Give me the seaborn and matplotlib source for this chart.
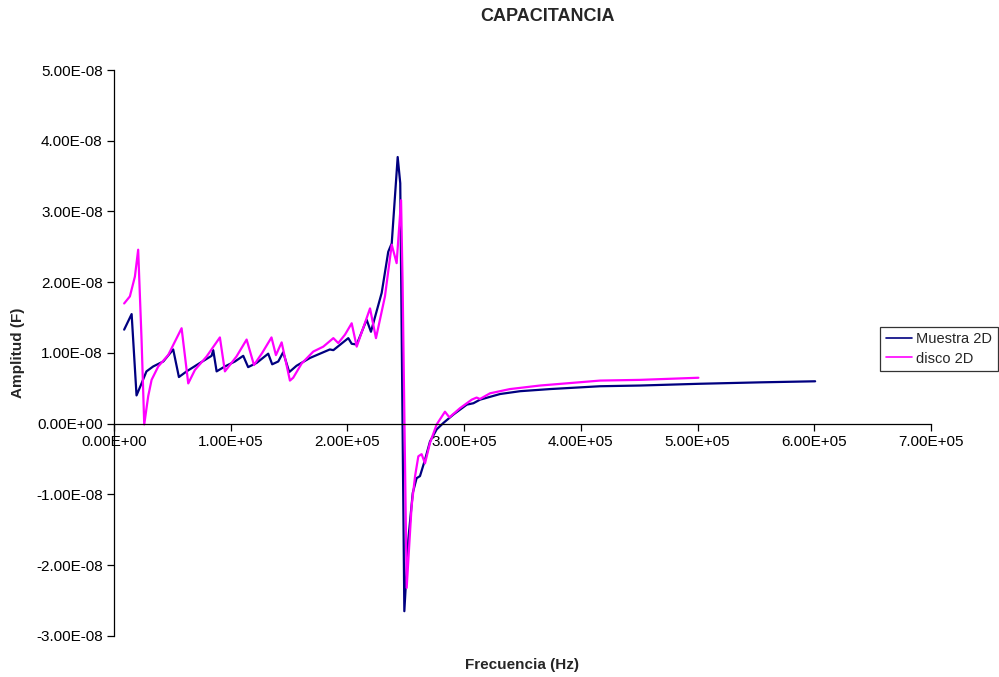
import matplotlib
matplotlib.use("Agg")
import matplotlib.pyplot as plt
import matplotlib.ticker as mticker
import pandas as pd
import seaborn as sns

# Muestra 2D: frequency (kHz) and capacitance (1e-8 F)
muestra_khz = [8.8, 15.2, 19.4, 23.7, 27.9, 33.7, 42.3, 50.8, 55.7, 62.3, 70.9, 83.7,
               85.1, 88, 95.1, 103.7, 110.8, 115, 122.3, 132.2, 135.6, 140.8, 145,
               150.2, 156.5, 168, 185, 188, 200.8, 203.7, 208, 216.5, 220.2, 229.4,
               235, 238, 243.1, 245.3, 248.8, 252.2, 256, 259.3, 262.2, 266.5,
               270.8, 276.5, 282.2, 290.8, 302.3, 308, 313.6, 330.8, 348, 373.6,
               416.5, 450.7, 502, 553.5, 600.7]
muestra_cap = [1.33, 1.55, 0.40, 0.57, 0.74, 0.81, 0.88, 1.05, 0.66, 0.74, 0.83, 0.96,
               1.04, 0.74, 0.81, 0.88, 0.96, 0.80, 0.86, 0.99, 0.84, 0.88, 1.01,
               0.73, 0.82, 0.93, 1.05, 1.04, 1.21, 1.13, 1.12, 1.47, 1.30, 1.85,
               2.43, 2.55, 3.77, 3.40, -2.65, -1.64, -0.98, -0.77, -0.74, -0.51,
               -0.25, -0.08, 0.01, 0.13, 0.27, 0.29, 0.34, 0.42, 0.46, 0.49,
               0.53, 0.54, 0.565, 0.585, 0.60]

# disco 2D
disco_khz = [8.8, 13.7, 18, 20.8, 23.7, 26, 29.4, 32.3, 38, 46.5, 58, 63.7, 69.4,
             79.4, 90.8, 95.1, 105, 113.7, 120, 127, 135, 138.8, 143.7, 150.8,
             153.6, 160.8, 170.8, 179.4, 188, 192.2, 198, 203.7, 208, 219.4, 224.5,
             232.2, 238, 242.2, 246, 247.3, 250.8, 255, 258, 260.8, 263.6, 266.5,
             270.8, 276.5, 283.6, 287.4, 296.5, 306.5, 310.7, 313.6, 322.2, 339.3,
             365, 416.5, 450.7, 500.7]
disco_cap = [1.70, 1.80, 2.08, 2.46, 1.19, -0.01, 0.39, 0.62, 0.81, 0.97, 1.35, 0.57,
             0.76, 0.95, 1.22, 0.74, 0.95, 1.19, 0.83, 1.00, 1.22, 0.97, 1.15, 0.61,
             0.65, 0.85, 1.02, 1.09, 1.21, 1.14, 1.26, 1.42, 1.09, 1.63, 1.21,
             1.80, 2.53, 2.27, 3.16, 2.00, -2.32, -1.17, -0.74, -0.46, -0.43, -0.56,
             -0.27, -0.01, 0.17, 0.09, 0.22, 0.34, 0.37, 0.35, 0.43, 0.49,
             0.54, 0.61, 0.62, 0.65]

df = pd.concat([
    pd.DataFrame({"f": [v * 1e3 for v in muestra_khz],
                  "c": [v * 1e-8 for v in muestra_cap], "serie": "Muestra 2D"}),
    pd.DataFrame({"f": [v * 1e3 for v in disco_khz],
                  "c": [v * 1e-8 for v in disco_cap], "serie": "disco 2D"}),
], ignore_index=True)

sns.set_style("white")
plt.rcParams["font.family"] = ["Liberation Sans", "DejaVu Sans"]

fig = plt.figure(figsize=(9.99, 6.77), dpi=100)
ax = fig.add_axes([0.114, 0.0606, 0.818, 0.836])

sns.lineplot(data=df, x="f", y="c", hue="serie", sort=False, estimator=None,
             palette={"Muestra 2D": "#000080", "disco 2D": "#FF00FF"},
             linewidth=1.6, ax=ax)

ax.set_xlim(0, 7e5)
ax.set_ylim(-3e-8, 5e-8)
ax.xaxis.set_major_locator(mticker.MultipleLocator(1e5))
ax.yaxis.set_major_locator(mticker.MultipleLocator(1e-8))
fmt = mticker.FuncFormatter(lambda v, p: "%.2E" % v)
ax.xaxis.set_major_formatter(fmt)
ax.yaxis.set_major_formatter(fmt)

for s in ["top", "right"]:
    ax.spines[s].set_visible(False)
ax.spines["bottom"].set_position(("data", 0))
for s in ["left", "bottom"]:
    ax.spines[s].set_color("black")
    ax.spines[s].set_linewidth(0.9)

ax.tick_params(axis="both", direction="out", length=5, width=0.9,
               color="black", labelsize=11, labelcolor="black")
ax.tick_params(axis="x", bottom=True, pad=3)
ax.tick_params(axis="y", left=True, pad=3)

ax.set_xlabel("")
ax.set_ylabel("")
fig.text(0.0185, 0.4785, "Amplitud (F)", rotation=90, ha="center", va="center",
         fontsize=11, fontweight="bold")
fig.text(0.523, 0.018, "Frecuencia (Hz)", ha="center", va="center",
         fontsize=11, fontweight="bold")
fig.text(0.548, 0.975, "CAPACITANCIA", ha="center", va="center",
         fontsize=13, fontweight="bold")

leg = ax.legend(loc="center left", bbox_to_anchor=(880 / 999, 1 - 349 / 677),
                bbox_transform=fig.transFigure, fontsize=10.5, frameon=True,
                fancybox=False, borderpad=0.4, handlelength=1.8,
                handletextpad=0.3, labelspacing=0.35, borderaxespad=0)
leg.get_frame().set_edgecolor("black")
leg.get_frame().set_linewidth(0.9)
for line in leg.get_lines():
    line.set_linewidth(1.2)

fig.savefig("out.png", dpi=100)
